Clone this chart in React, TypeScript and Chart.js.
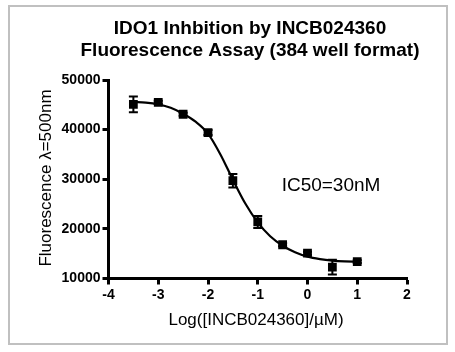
import React, { useEffect, useRef } from "react";
import { Chart, registerables } from "chart.js";

Chart.register(...registerables);

// Measured points (log dose, mean fluorescence, error)
const doseLog = [-3.5, -3, -2.5, -2, -1.5, -1, -0.5, 0, 0.5, 1];
const meanSignal = [45100, 45500, 43100, 39400, 29700, 21400, 16800, 15100, 12300, 13400];
const errSignal = [1600, 300, 300, 500, 1350, 1200, 300, 300, 1500, 300];

// Fitted curve
const fitLog = [-3.5, -3.25, -3, -2.75, -2.5, -2.25, -2, -1.75, -1.5, -1.25, -1, -0.75, -0.5, -0.25, 0, 0.25, 0.5, 0.75, 1];
const fitSignal = [45600, 45450, 45100, 44400, 43200, 41600, 39200, 35000, 29900, 25100, 21300, 18500, 16600, 15300, 14400, 13900, 13600, 13450, 13400];

const xTickValues = [-4, -3, -2, -1, 0, 1, 2];
const yTickValues = [10000, 20000, 30000, 40000, 50000];

const titleLines = ["IDO1 Inhbition by INCB024360", "Fluorescence Assay (384 well format)"];
const xTitle = "Log([INCB024360]/\u00B5M)";
const yTitle = "Fluorescence \u03BB=500nm";
const noteText = "IC50=30nM";
const noteAt = { x: -0.52, y: 28600 };

const FONT = "'Liberation Sans', Arial, Helvetica, sans-serif";

export default function App() {
  const ref = useRef<HTMLCanvasElement | null>(null);

  useEffect(() => {
    const canvas = ref.current;
    if (!canvas) return;

    const decor = {
      id: "decor",
      beforeDraw(chart: any) {
        const ctx = chart.ctx;
        ctx.save();
        ctx.fillStyle = "#ffffff";
        ctx.fillRect(0, 0, chart.width, chart.height);
        ctx.strokeStyle = "#c0c0c0";
        ctx.lineWidth = 2;
        ctx.strokeRect(9, 6, 438, 338);
        ctx.restore();
      },
      afterDraw(chart: any) {
        const ctx = chart.ctx;
        const xs = chart.scales.x;
        const ys = chart.scales.y;
        ctx.save();
        ctx.fillStyle = "#000";
        ctx.textAlign = "center";
        ctx.textBaseline = "middle";
        ctx.font = `bold 19px ${FONT}`;
        ctx.fillText(titleLines[0], 250, 29);
        ctx.fillText(titleLines[1], 250, 51);

        ctx.font = `17px ${FONT}`;
        ctx.fillText(xTitle, 256, 320);

        ctx.save();
        ctx.translate(46, 178);
        ctx.rotate(-Math.PI / 2);
        ctx.fillText(yTitle, 0, 0);
        ctx.restore();

        ctx.font = `19px ${FONT}`;
        ctx.textAlign = "left";
        ctx.fillText(noteText, xs.getPixelForValue(noteAt.x), ys.getPixelForValue(noteAt.y));
        ctx.restore();
      },
      afterDatasetsDraw(chart: any) {
        const ctx = chart.ctx;
        const xs = chart.scales.x;
        const ys = chart.scales.y;
        ctx.save();
        ctx.strokeStyle = "#000";
        ctx.lineWidth = 2;
        for (let i = 0; i < doseLog.length; i++) {
          const px = xs.getPixelForValue(doseLog[i]);
          const top = ys.getPixelForValue(meanSignal[i] + errSignal[i]);
          const bot = ys.getPixelForValue(meanSignal[i] - errSignal[i]);
          ctx.beginPath();
          ctx.moveTo(px, top);
          ctx.lineTo(px, bot);
          ctx.moveTo(px - 4.5, top);
          ctx.lineTo(px + 4.5, top);
          ctx.moveTo(px - 4.5, bot);
          ctx.lineTo(px + 4.5, bot);
          ctx.stroke();
        }
        ctx.restore();
      },
    };

    const chart = new Chart(canvas, {
      type: "scatter",
      data: {
        datasets: [
          {
            label: "fit",
            data: fitLog.map((x, i) => ({ x, y: fitSignal[i] })),
            showLine: true,
            borderColor: "#000",
            borderWidth: 2.2,
            pointRadius: 0,
            cubicInterpolationMode: "monotone",
            fill: false,
          },
          {
            label: "data",
            data: doseLog.map((x, i) => ({ x, y: meanSignal[i] })),
            showLine: false,
            pointStyle: "rect",
            pointRadius: 6.2,
            backgroundColor: "#000",
            borderColor: "#000",
            borderWidth: 0,
          },
        ],
      },
      options: {
        animation: false,
        responsive: false,
        devicePixelRatio: 1,
        layout: { padding: { left: 0, top: 80, right: 48, bottom: 0 } },
        plugins: {
          legend: { display: false },
          tooltip: { enabled: false },
          title: { display: false },
        },
        scales: {
          x: {
            type: "linear",
            min: -4,
            max: 2,
            afterFit(scale: any) {
              scale.height = 73.5;
            },
            afterBuildTicks(scale: any) {
              scale.ticks = xTickValues.map((v) => ({ value: v }));
            },
            border: { display: true, color: "#000", width: 3 },
            grid: {
              drawOnChartArea: false,
              drawTicks: true,
              tickLength: 6,
              tickWidth: 3,
              tickColor: "#000",
              color: "#000",
            },
            ticks: {
              color: "#000",
              padding: 2,
              font: { family: FONT, size: 14, weight: "bold" },
              callback: (v: any) => String(v),
            },
          },
          y: {
            type: "linear",
            min: 10000,
            max: 50000,
            afterFit(scale: any) {
              scale.width = 108.5;
            },
            afterBuildTicks(scale: any) {
              scale.ticks = yTickValues.map((v) => ({ value: v }));
            },
            border: { display: true, color: "#000", width: 3 },
            grid: {
              drawOnChartArea: false,
              drawTicks: true,
              tickLength: 6,
              tickWidth: 3,
              tickColor: "#000",
              color: "#000",
            },
            ticks: {
              color: "#000",
              padding: 2,
              font: { family: FONT, size: 14, weight: "bold" },
              callback: (v: any) => String(v),
            },
          },
        },
      },
      plugins: [decor],
    } as any);

    return () => chart.destroy();
  }, []);

  return (
    <div style={{ position: "fixed", left: 0, top: 0, width: 455, height: 352, background: "#fff" }}>
      <canvas ref={ref} width={455} height={352} style={{ width: 455, height: 352, display: "block" }} />
    </div>
  );
}
